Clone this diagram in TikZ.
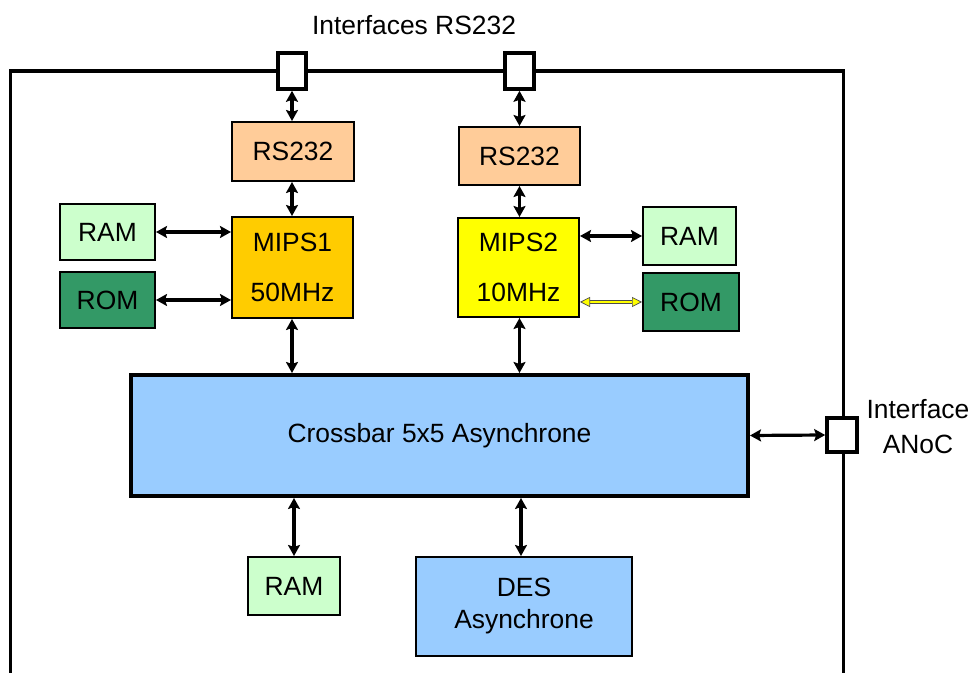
\documentclass[tikz,border=0pt]{standalone}
\usepackage{fontspec}
\setmainfont{Liberation Sans}
\usetikzlibrary{arrows.meta}
\definecolor{rsc}{HTML}{FFCC99}
\definecolor{ramc}{HTML}{CCFFCC}
\definecolor{romc}{HTML}{339966}
\definecolor{bluec}{HTML}{99CCFF}
\definecolor{mipsa}{HTML}{FFCC00}
\definecolor{mipsb}{HTML}{FFFF00}
\tikzset{
  blk/.style={draw=black, line width=1pt, inner sep=0pt, align=center,
    font=\fontsize{13.2}{25}\selectfont},
  port/.style={draw=black, line width=1.8pt, fill=white, inner sep=0pt},
  lnk/.style={line width=1.6pt, {Stealth[length=5.5pt,width=6pt,inset=1pt]}-{Stealth[length=5.5pt,width=6pt,inset=1pt]}},
  ylnk/.style={draw=black!70, double=mipsb, double distance=1pt, line width=0.35pt,
    {Triangle[length=5pt,width=5pt,fill=mipsb,color=black!70]}-{Triangle[length=5pt,width=5pt,fill=mipsb,color=black!70]}},
  lbl/.style={font=\fontsize{13.2}{17.5}\selectfont, align=center, inner sep=0pt}
}
\begin{document}
\begin{tikzpicture}[x=0.5pt,y=-0.5pt]
\useasboundingbox (0,0) rectangle (971,673);
\begin{scope}
\clip (0,0) rectangle (971,673);
% outer frame
\draw[line width=1.5pt] (10,690) -- (10,71) -- (843,71) -- (843,690);
\draw[line width=2pt] (10,71) -- (843,71);
\end{scope}
% ports
\node[port, minimum width=14pt, minimum height=18pt] (portA) at (292,71) {};
\node[port, minimum width=14.5pt, minimum height=18pt] (portB) at (519.5,71) {};
\node[port, minimum width=15pt, minimum height=17pt] (portC) at (842,435) {};
% blocks
\node[blk, fill=rsc, minimum width=61pt, minimum height=29.5pt] (rsA) at (293,151.5) {RS232};
\node[blk, fill=rsc, minimum width=60.5pt, minimum height=29pt] (rsB) at (519.5,156) {RS232};
\node[blk, fill=mipsa, minimum width=60.5pt, minimum height=50.5pt] (mipsA) at (292.5,267.5) {MIPS1\\50MHz};
\node[blk, fill=mipsb, minimum width=60.5pt, minimum height=49.5pt] (mipsB) at (518.5,267.5) {MIPS2\\10MHz};
\node[blk, fill=ramc, minimum width=47.5pt, minimum height=28pt] (ramA) at (107.5,232) {RAM};
\node[blk, fill=romc, minimum width=47.5pt, minimum height=28pt] (romA) at (107.5,300) {ROM};
\node[blk, fill=ramc, minimum width=46.5pt, minimum height=29pt] (ramB) at (689.5,236) {RAM};
\node[blk, fill=romc, minimum width=48pt, minimum height=29pt] (romB) at (691,302) {ROM};
\node[blk, fill=bluec, line width=2pt, minimum width=308.5pt, minimum height=60.5pt] (xbar) at (439.5,435.5) {Crossbar 5x5 Asynchrone};
\node[blk, fill=ramc, minimum width=46pt, minimum height=29pt] (ramC) at (294,586) {RAM};
\node[blk, fill=bluec, minimum width=108pt, minimum height=49.5pt, font=\fontsize{13.2}{16}\selectfont] (des) at (524,606.5) {DES\\Asynchrone};
% labels
\node[lbl] (tlabel) at (414,25) {Interfaces RS232};
\node[lbl] (rlabel) at (918,427) {Interface\\ANoC};
% connectors
\draw[lnk] (portA.south) -- (rsA.north -| portA.south);
\draw[lnk] (rsA.south -| portA.south) -- (mipsA.north -| portA.south);
\draw[lnk] (portB.south) -- (rsB.north -| portB.south);
\draw[lnk] (rsB.south -| portB.south) -- (mipsB.north -| portB.south);
\draw[lnk] (ramA.east) -- (ramA.east -| mipsA.west);
\draw[lnk] (romA.east) -- (romA.east -| mipsA.west);
\draw[lnk] (ramB.west -| mipsB.east) -- (ramB.west);
\draw[ylnk] (romB.west -| mipsB.east) -- (romB.west);
\draw[lnk] (mipsA.south -| portA.south) -- (xbar.north -| portA.south);
\draw[lnk] (mipsB.south -| portB.south) -- (xbar.north -| portB.south);
\draw[lnk] (xbar.east) -- (portC.west);
\draw[lnk] (xbar.south -| ramC.north) -- (ramC.north);
\draw[lnk] (xbar.south -| 521,0) -- (des.north -| 521,0);
\end{tikzpicture}
\end{document}
